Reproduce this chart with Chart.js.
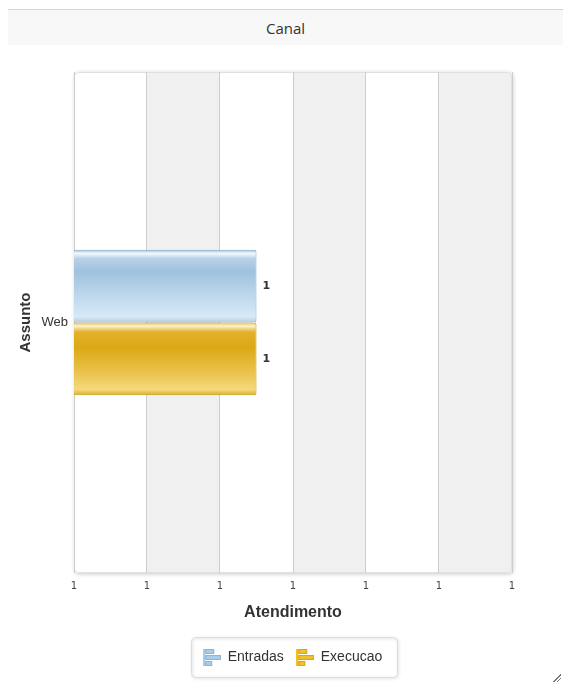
<!DOCTYPE html>
<html>
<head>
<meta charset="utf-8">
<script src="https://cdn.jsdelivr.net/npm/chart.js@4/dist/chart.umd.min.js"></script>
<style>
html,body{margin:0;padding:0;background:#fff;width:563px;height:684px;overflow:hidden;}
#hdr{position:absolute;left:8px;top:9px;width:555px;height:36px;background:#f8f8f8;border-top:1px solid #d4d4d4;box-sizing:border-box;text-align:center;font:15px "Open Sans",sans-serif;color:#333;line-height:36px;}
#wrap{position:absolute;left:0;top:45px;width:563px;height:639px;}
#grip{position:absolute;left:553px;top:674px;width:8px;height:8px;background:linear-gradient(135deg,transparent 48%,#777 48%,#777 58%,transparent 58%,transparent 70%,#777 70%,#777 80%,transparent 80%);}
</style>
</head>
<body>
<div id="hdr">Canal</div>
<div id="wrap"><canvas id="c"></canvas></div>
<div id="grip"></div>
<script>
// ---- data ----
const categories = ['Web'];
const seriesLabels = ['Entradas', 'Execucao'];
const entradasValues = [1];
const execucaoValues = [1];
const xTickValues = [0.75, 0.85, 0.95, 1.05, 1.15, 1.25, 1.35];
const xTickLabels = ['1', '1', '1', '1', '1', '1', '1'];
const xTitle = 'Atendimento';
const yTitle = 'Assunto';

// ---- styles ----
const CAT_PCT = 0.29;
const blueStops = [[0,'#a3c0da'],[0.05,'#f2f8fc'],[0.12,'#b7d2e8'],[0.3,'#a0c1dd'],[0.7,'#c4dcf0'],[0.92,'#d8e9f7'],[1,'#b3cbe0']];
const goldStops = [[0,'#e9c555'],[0.05,'#fcf2cc'],[0.13,'#e3b12c'],[0.35,'#dca815'],[0.7,'#ebc44e'],[0.92,'#f6d97e'],[1,'#dcae2c']];

function makeIcon(fill, stroke) {
  const cv = document.createElement('canvas');
  cv.width = 18; cv.height = 18;
  const g = cv.getContext('2d');
  g.fillStyle = fill; g.strokeStyle = stroke; g.lineWidth = 1;
  g.fillRect(0, 1, 2, 17);
  const bars = [[2, 1, 9, 5], [2, 7, 16, 5], [2, 13, 7, 5]];
  bars.forEach(([x, y, w, h]) => { g.fillRect(x, y, w, h); g.strokeRect(x + 0.5, y + 0.5, w - 1, h - 1); });
  return cv;
}
const icons = [makeIcon('#a8cbe8', '#8db5d8'), makeIcon('#efc02a', '#d9a810')];

function barGradient(c, stops, fallback) {
  const chart = c.chart;
  const area = chart.chartArea;
  if (!area || c.dataIndex === undefined) return fallback;
  const ys = chart.scales.y;
  const center = ys.getPixelForValue(c.dataIndex);
  const band = (area.bottom - area.top) / categories.length * CAT_PCT;
  const nSeries = chart.data.datasets.length;
  const top = center - band / 2 + c.datasetIndex * band / nSeries;
  const g = chart.ctx.createLinearGradient(0, top, 0, top + band / nSeries);
  stops.forEach(s => g.addColorStop(s[0], s[1]));
  return g;
}

function rr(ctx, x, y, w, h, r) {
  ctx.beginPath();
  ctx.moveTo(x + r, y);
  ctx.lineTo(x + w - r, y); ctx.arcTo(x + w, y, x + w, y + r, r);
  ctx.lineTo(x + w, y + h - r); ctx.arcTo(x + w, y + h, x + w - r, y + h, r);
  ctx.lineTo(x + r, y + h); ctx.arcTo(x, y + h, x, y + h - r, r);
  ctx.lineTo(x, y + r); ctx.arcTo(x, y, x + r, y, r);
  ctx.closePath();
}

const plotBg = {
  id: 'plotBg',
  beforeDraw(chart) {
    const {ctx, chartArea: a, scales: {x}} = chart;
    ctx.save();
    ctx.shadowColor = 'rgba(0,0,0,0.22)'; ctx.shadowBlur = 4; ctx.shadowOffsetX = 1; ctx.shadowOffsetY = 1;
    ctx.fillStyle = '#fff';
    rr(ctx, a.left, a.top, a.right - a.left, a.bottom - a.top, 4); ctx.fill();
    ctx.restore();
    ctx.save();
    rr(ctx, a.left, a.top, a.right - a.left, a.bottom - a.top, 4); ctx.clip();
    ctx.fillStyle = '#f0f0f0';
    for (let i = 1; i + 1 < x.ticks.length; i += 2) {
      const l = x.getPixelForValue(x.ticks[i].value), r = x.getPixelForValue(x.ticks[i + 1].value);
      ctx.fillRect(l, a.top, r - l, a.bottom - a.top);
    }
    ctx.restore();
    ctx.save();
    ctx.strokeStyle = '#e0e0e0'; ctx.lineWidth = 1;
    rr(ctx, a.left + 0.5, a.top + 0.5, a.right - a.left - 1, a.bottom - a.top - 1, 4); ctx.stroke();
    ctx.restore();
  },
  afterDraw(chart) {
    const lg = chart.legend; const hb = lg.legendHitBoxes;
    if (!hb || !hb.length) return;
    const {ctx} = chart;
    const left = hb[0].left - 13, right = hb[hb.length - 1].left + hb[hb.length - 1].width + 14;
    const cy = hb[0].top + hb[0].height / 2;
    ctx.save();
    ctx.shadowColor = 'rgba(0,0,0,0.2)'; ctx.shadowBlur = 3; ctx.shadowOffsetX = 1; ctx.shadowOffsetY = 1;
    ctx.strokeStyle = '#dcdcdc'; ctx.lineWidth = 1;
    rr(ctx, Math.round(left) + 0.5, Math.round(cy - 20) + 0.5, Math.round(right - left), 40, 4); ctx.stroke();
    ctx.restore();
  }
};

const valueLabels = {
  id: 'valueLabels',
  afterDatasetsDraw(chart) {
    const {ctx} = chart;
    ctx.save();
    ctx.font = 'bold 11px "DejaVu Sans", sans-serif';
    ctx.fillStyle = '#333';
    ctx.textAlign = 'left'; ctx.textBaseline = 'middle';
    chart.data.datasets.forEach((ds, di) => {
      chart.getDatasetMeta(di).data.forEach((el, i) => {
        ctx.fillText(String(ds.data[i]), el.x + 6, el.y);
      });
    });
    ctx.restore();
  }
};

new Chart(document.getElementById('c'), {
  type: 'bar',
  data: {
    labels: categories,
    datasets: [
      { label: seriesLabels[0], data: entradasValues,
        backgroundColor: c => barGradient(c, blueStops, '#a8cbe8'),
        borderColor: '#86a8c6', borderWidth: 1, borderRadius: 2, borderSkipped: false,
        categoryPercentage: CAT_PCT, barPercentage: 1 },
      { label: seriesLabels[1], data: execucaoValues,
        backgroundColor: c => barGradient(c, goldStops, '#efc02a'),
        borderColor: '#c4970e', borderWidth: 1, borderRadius: 2, borderSkipped: false,
        categoryPercentage: CAT_PCT, barPercentage: 1 }
    ]
  },
  options: {
    indexAxis: 'y',
    responsive: true,
    maintainAspectRatio: false,
    animation: false,
    layout: { padding: { left: 0, right: 51, top: 27, bottom: 10 } },
    scales: {
      x: {
        min: xTickValues[0], max: xTickValues[xTickValues.length - 1],
        afterBuildTicks: s => { s.ticks = xTickValues.map(v => ({ value: v })); },
        afterFit: s => { s.height = 64; },
        grid: { color: '#cdcdcd', drawTicks: false, lineWidth: 1 },
        border: { display: false },
        ticks: { autoSkip: false, maxRotation: 0, padding: 7, color: '#444',
          font: { family: '"DejaVu Sans", sans-serif', size: 10 },
          callback: (v, i) => xTickLabels[i] },
        title: { display: true, text: xTitle, color: '#333',
          font: { family: '"Liberation Sans", Arial, sans-serif', size: 16, weight: 'bold' },
          padding: { top: 0, bottom: 15 } }
      },
      y: {
        afterFit: s => { s.width = 74; },
        grid: { display: false, drawTicks: false },
        border: { display: false },
        ticks: { padding: 6, color: '#333',
          font: { family: '"Liberation Sans", Arial, sans-serif', size: 13 } },
        title: { display: true, text: yTitle, color: '#333',
          font: { family: '"Liberation Sans", Arial, sans-serif', size: 15, weight: 'bold' },
          padding: { top: 17, bottom: 0 } }
      }
    },
    plugins: {
      tooltip: { enabled: false },
      legend: {
        position: 'bottom', fullSize: false,
        labels: {
          usePointStyle: true, pointStyleWidth: 17, padding: 13, color: '#333',
          font: { family: '"Liberation Sans", Arial, sans-serif', size: 14 },
          generateLabels: ch => Chart.defaults.plugins.legend.labels.generateLabels(ch).map((it, i) => Object.assign(it, { pointStyle: icons[i] }))
        }
      }
    }
  },
  plugins: [plotBg, valueLabels]
});
</script>
</body>
</html>
